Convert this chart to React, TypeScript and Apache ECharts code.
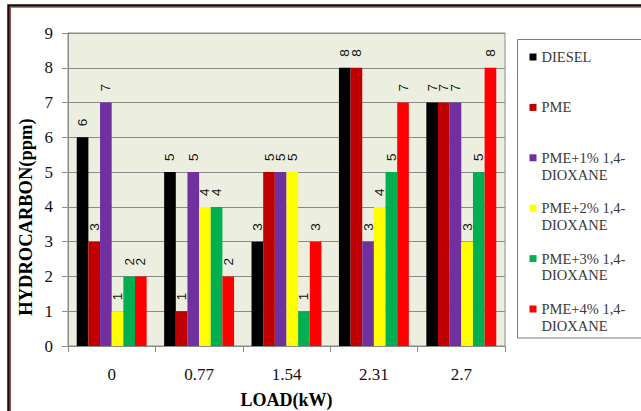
import React, { useEffect, useRef } from "react";
import * as echarts from "echarts";

// Engine load (kW) on the category axis
const categories = ["0", "0.77", "1.54", "2.31", "2.7"];

// Hydrocarbon emissions (ppm) per fuel blend
const seriesNames = [
  "DIESEL",
  "PME",
  "PME+1% 1,4-DIOXANE",
  "PME+2% 1,4-DIOXANE",
  "PME+3% 1,4-DIOXANE",
  "PME+4% 1,4-DIOXANE",
];
const diesel = [6, 5, 3, 8, 7];
const pme = [3, 1, 5, 8, 7];
const pme1 = [7, 5, 5, 3, 7];
const pme2 = [1, 4, 5, 4, 3];
const pme3 = [2, 4, 1, 5, 5];
const pme4 = [2, 2, 3, 7, 8];
const seriesValues = [diesel, pme, pme1, pme2, pme3, pme4];
const seriesColors = ["#000000", "#C00000", "#7030A0", "#FFFF00", "#00B050", "#FF0000"];

const yTicks = { min: 0, max: 9, interval: 1 };

const serif = "'Liberation Serif', 'Times New Roman', serif";

export default function App() {
  const ref = useRef<HTMLDivElement>(null);

  useEffect(() => {
    if (!ref.current) return;
    const chart = echarts.init(ref.current, null, { renderer: "svg" });

    const series = seriesNames.map((name, i) => ({
      name,
      type: "bar" as const,
      data: seriesValues[i],
      barGap: "0%",
      barCategoryGap: "20%",
      itemStyle: { color: seriesColors[i] },
      label: {
        show: true,
        position: "top" as const,
        rotate: 90,
        align: "left" as const,
        verticalAlign: "middle" as const,
        distance: 11,
        fontFamily: "'Liberation Sans', Arial, sans-serif",
        fontSize: 13.5,
        color: "#111",
      },
    }));

    chart.setOption({
      animation: false,
      backgroundColor: "#ffffff",
      grid: {
        left: 68,
        top: 33,
        width: 437,
        height: 313,
        outerBoundsMode: "none",
        containLabel: false,
        show: true,
        backgroundColor: "#ECEEDF",
        borderColor: "#8a8a8a",
        borderWidth: 1,
      },
      legend: {
        orient: "vertical",
        left: 529.5,
        top: 31.8,
        padding: 0,
        itemGap: 0,
        itemWidth: 7,
        itemHeight: 7,
        icon: "rect",
        data: seriesNames,
        textStyle: {
          fontFamily: serif,
          fontSize: 14.5,
          color: "#3a3a3a",
          lineHeight: 16.8,
        },
        formatter: (name: string) => {
          const k = name.indexOf(" 1,4-");
          if (k < 0) return " \n" + name + "\n ";
          return " \n" + name.slice(0, k + 5) + "\n" + name.slice(k + 5);
        },
      },
      xAxis: {
        type: "category",
        data: categories,
        name: "LOAD(kW)",
        nameLocation: "middle",
        nameGap: 45,
        nameTextStyle: { fontFamily: serif, fontSize: 18, fontWeight: "bold", color: "#000" },
        axisLine: { lineStyle: { color: "#8a8a8a" } },
        axisTick: { show: true, alignWithLabel: false, length: 6, lineStyle: { color: "#8a8a8a" } },
        axisLabel: { fontFamily: serif, fontSize: 17, color: "#111", margin: 20 },
      },
      yAxis: {
        type: "value",
        min: yTicks.min,
        max: yTicks.max,
        interval: yTicks.interval,
        axisLine: { show: true, lineStyle: { color: "#8a8a8a" } },
        axisTick: { show: true, length: 6, lineStyle: { color: "#8a8a8a" } },
        axisLabel: { fontFamily: serif, fontSize: 17, color: "#111", margin: 15 },
        splitLine: { show: true, lineStyle: { color: "#8a8a8a", width: 1 } },
      },
      graphic: [
        // outer frame, top and left edges
        {
          type: "rect",
          silent: true,
          shape: { x: 8.5, y: 5.5, width: 800, height: 600 },
          style: { fill: "none", stroke: "#140808", lineWidth: 2.5 },
          z: 0,
        },
        {
          type: "rect",
          silent: true,
          shape: { x: 10.5, y: 7.2, width: 800, height: 600 },
          style: { fill: "none", stroke: "#8a4a48", lineWidth: 1 },
          z: 0,
        },
        // legend box
        {
          type: "rect",
          silent: true,
          shape: { x: 517.5, y: 39.5, width: 200, height: 298.5 },
          style: { fill: "#ffffff", stroke: "#7a7a7a", lineWidth: 1 },
          z: -1,
        },
        // y-axis title
        {
          type: "text",
          silent: true,
          x: 26,
          y: 217,
          rotation: Math.PI / 2,
          style: {
            text: "HYDROCARBON(ppm)",
            fontFamily: serif,
            fontSize: 18.5,
            fontWeight: "bold",
            fill: "#000",
            align: "center",
            verticalAlign: "middle",
          },
        },
      ],
      series,
    });

    return () => chart.dispose();
  }, []);

  return (
    <div
      ref={ref}
      style={{ position: "fixed", left: 0, top: 0, width: 641, height: 411, background: "#fff" }}
    />
  );
}
